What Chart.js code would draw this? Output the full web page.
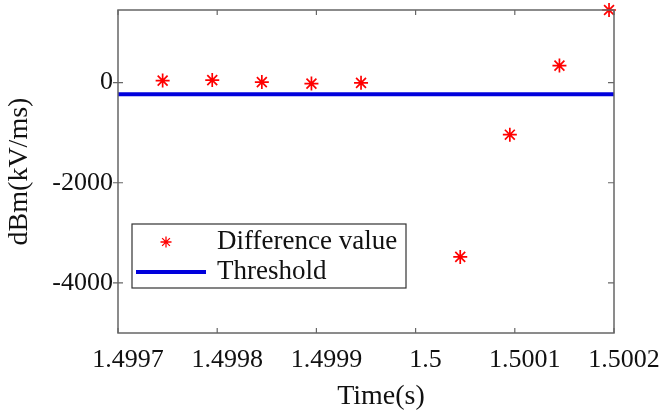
<!DOCTYPE html>
<html>
<head>
<meta charset="utf-8">
<script src="https://cdn.jsdelivr.net/npm/chart.js@4"></script>
<style>
  html, body { margin: 0; padding: 0; background: #fff; }
  #wrap { width: 662px; height: 414px; }
</style>
</head>
<body>
<div id="wrap"><canvas id="plot" width="662" height="414"></canvas></div>
<script>
// data
const times = [1.499745, 1.499795, 1.499845, 1.499895, 1.499945, 1.500045, 1.500095, 1.500145, 1.500195];
const diffValues = [40, 50, 10, -20, -5, -3480, -1040, 340, 1450];
const thresholdValue = -230;
const thresholdSpan = [1.4997, 1.5002];
const xTicks = [1.4997, 1.4998, 1.4999, 1.5, 1.5001, 1.5002];
const xTickLabels = ["1.4997", "1.4998", "1.4999", "1.5", "1.5001", "1.5002"];
const yTicks = [-4000, -2000, 0];
const seriesNames = ["Difference value", "Threshold"];
const xTitle = "Time(s)";

const serif = "'Liberation Serif', 'Times New Roman', serif";
const axisGray = "#666";

// box round the axes, inward tick marks (matlab style), legend and x title
const boxTicks = {
  id: "boxTicks",
  afterDatasetsDraw(chart) {
    const { ctx, chartArea: a, scales } = chart;
    ctx.save();
    ctx.strokeStyle = axisGray;
    ctx.lineWidth = 1.5;
    ctx.strokeRect(a.left, a.top, a.right - a.left, a.bottom - a.top);
    ctx.lineWidth = 1.2;
    ctx.beginPath();
    xTicks.forEach(v => {
      const x = scales.x.getPixelForValue(v);
      ctx.moveTo(x, a.bottom); ctx.lineTo(x, a.bottom - 5);
      ctx.moveTo(x, a.top); ctx.lineTo(x, a.top + 5);
    });
    yTicks.forEach(v => {
      const y = scales.y.getPixelForValue(v);
      ctx.moveTo(a.left - 5, y); ctx.lineTo(a.left + 5, y);
      ctx.moveTo(a.right, y); ctx.lineTo(a.right - 6, y);
    });
    ctx.stroke();
    ctx.restore();
  },
  afterDraw(chart) {
    const { ctx, chartArea: a } = chart;
    const ds = chart.data.datasets;

    // x title, sits a bit right of centre like the original
    ctx.save();
    ctx.fillStyle = "#111";
    ctx.font = "28px " + serif;
    ctx.textAlign = "center";
    ctx.textBaseline = "middle";
    ctx.fillText(xTitle, (a.left + a.right) / 2 + 15, a.bottom + 64);
    ctx.restore();

    // legend box inside the plot
    const bx = a.left + 14, by = a.top + 214, bw = 274, bh = 64;
    ctx.save();
    ctx.fillStyle = "#fff";
    ctx.fillRect(bx, by, bw, bh);
    ctx.strokeStyle = "#333";
    ctx.lineWidth = 1.2;
    ctx.strokeRect(bx, by, bw, bh);

    const row1 = by + 18, row2 = by + 48;
    // star marker
    ctx.strokeStyle = ds[0].borderColor;
    ctx.lineWidth = 1.3;
    const r = 5.5, cx = bx + 34;
    ctx.beginPath();
    for (let k = 0; k < 4; k++) {
      const ang = k * Math.PI / 4;
      ctx.moveTo(cx - r * Math.cos(ang), row1 - r * Math.sin(ang));
      ctx.lineTo(cx + r * Math.cos(ang), row1 + r * Math.sin(ang));
    }
    ctx.stroke();
    // line marker
    ctx.strokeStyle = ds[1].borderColor;
    ctx.lineWidth = 4;
    ctx.beginPath();
    ctx.moveTo(bx + 4, row2); ctx.lineTo(bx + 74, row2);
    ctx.stroke();

    ctx.fillStyle = "#111";
    ctx.font = "27px " + serif;
    ctx.textBaseline = "middle";
    ctx.fillText(ds[0].label, bx + 85, row1);
    ctx.fillText(ds[1].label, bx + 85, row2);
    ctx.restore();
  }
};

const ctx = document.getElementById("plot");
const chart = new Chart(ctx, {
  type: "scatter",
  data: {
    datasets: [
      {
        label: seriesNames[0],
        data: times.map((t, i) => ({ x: t, y: diffValues[i] })),
        pointStyle: "star",
        pointRadius: 7,
        borderColor: "#ff0000",
        backgroundColor: "#ff0000",
        pointBorderWidth: 1.7,
        showLine: false,
        clip: false,
      },
      {
        label: seriesNames[1],
        data: thresholdSpan.map(t => ({ x: t, y: thresholdValue })),
        showLine: true,
        borderColor: "#0000dc",
        borderWidth: 4,
        pointRadius: 0,
        clip: false,
      },
    ],
  },
  options: {
    responsive: false,
    animation: false,
    layout: { padding: { top: 10, right: 48, left: 0, bottom: 0 } },
    plugins: { legend: { display: false }, tooltip: { enabled: false } },
    scales: {
      x: {
        type: "linear",
        min: 1.4997,
        max: 1.5002,
        border: { display: false },
        grid: { display: false, drawTicks: false },
        afterBuildTicks: s => { s.ticks = xTicks.map(v => ({ value: v })); },
        afterFit: s => { s.height = 81; s.paddingLeft = 0; s.paddingRight = 0; },
        ticks: {
          color: "#111",
          font: { family: serif, size: 26 },
          padding: 12,
          labelOffset: 10,
          maxRotation: 0,
          autoSkip: false,
          callback: (v, i) => xTickLabels[i],
        },
      },
      y: {
        type: "linear",
        min: -5000,
        max: 1450,
        border: { display: false },
        grid: { display: false, drawTicks: false },
        afterBuildTicks: s => { s.ticks = yTicks.map(v => ({ value: v })); },
        afterFit: s => { s.width = 118; s.paddingTop = 0; s.paddingBottom = 0; },
        ticks: {
          color: "#111",
          font: { family: serif, size: 26 },
          padding: 5,
          autoSkip: false,
          callback: v => String(v),
        },
        title: {
          display: true,
          text: "dBm(kV/ms)",
          color: "#111",
          font: { family: serif, size: 28 },
          padding: { top: 3, bottom: 0 },
        },
      },
    },
  },
  plugins: [boxTicks],
});
</script>
</body>
</html>
